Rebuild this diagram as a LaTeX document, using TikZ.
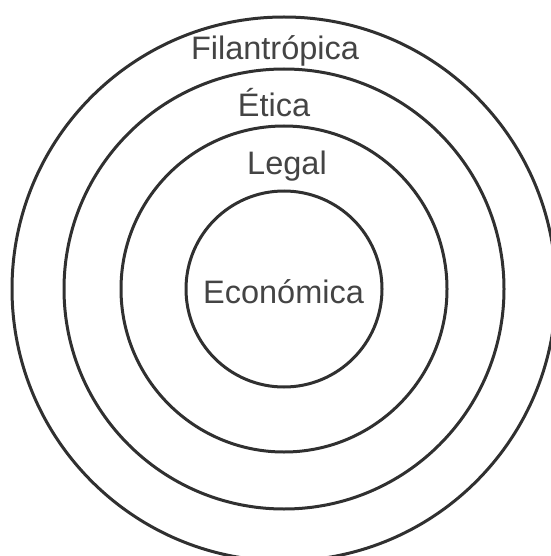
\documentclass[tikz,border=0pt]{standalone}
\usepackage{fontspec}
\setmainfont{Liberation Sans}
\usetikzlibrary{positioning}
\definecolor{CsrLine}{RGB}{48,48,48}
\definecolor{CsrText}{RGB}{68,68,68}
\tikzset{
  csr/ring/.style={
    circle,
    draw=CsrLine,
    line width=3pt,
    inner sep=0pt,
    minimum size=#1
  },
  csr/label/.style={
    anchor=base,
    text=CsrText,
    inner sep=0pt,
    font=\fontsize{32.5}{39}\selectfont
  }
}

\begin{document}
\begin{tikzpicture}[x=1pt,y=-1pt]
  \useasboundingbox (0,0) rectangle (550,556);
  \foreach \nm/\r in {filan/272,etica/220,legal/163,econ/98}
  {\node[csr/ring=2*\r pt] (\nm) at (284,289) {};}
  \node[csr/label] (lblfilan) at (275,60) {Filantrópica};
  \node[csr/label] (lbletica) at (274,117) {Ética};
  \node[csr/label] (lbllegal) at (287,175) {Legal};
  \node[csr/label] (lblecon) at (283.5,303) {Económica};
\end{tikzpicture}
\end{document}
